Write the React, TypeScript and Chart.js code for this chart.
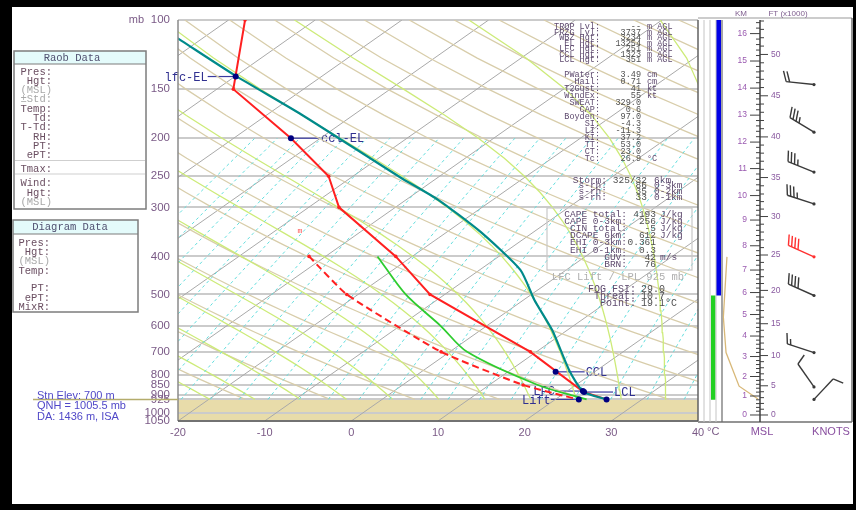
import React, { useEffect, useRef } from "react";
import { Chart, registerables } from "chart.js";
Chart.register(...registerables);

// ---------------- axis ticks ----------------
const pressureLevels = [100, 150, 200, 250, 300, 400, 500, 600, 700, 800, 850, 900, 925, 1000, 1050];
const tempTicks = [-20, -10, 0, 10, 20, 30, 40];

// ---------------- background line families ----------------
const isotherms = [-80, -70, -60, -50, -40, -30, -20, -10, 0, 10, 20, 30, 40];
const dryAdiabats = [-20, -10, 0, 10, 20, 30, 40, 50, 60, 70, 80, 90, 100, 110, 120, 130, 140, 150, 160, 170, 180, 190, 200, 210, 220];
const moistAdiabats = [-25, -20, -15, -10, -5, 0, 5, 10, 15, 20, 25, 30, 35, 40, 45, 50, 55, 60];
const mixingRatios = [0.08, 0.11, 0.15, 0.2, 0.27, 0.36, 0.48, 0.64, 0.86, 1.14, 1.5, 2, 2.6, 3.4, 4.4, 5.7, 7.1, 9.1, 11.6, 14.4, 18.5, 24, 31, 40];
const groundP = 925;

// ---------------- sounding ----------------
const tempP = [100, 150, 200, 250, 300, 400, 500, 700, 885, 925];
const tempC = [-78.1, -68.1, -53.4, -42.8, -36.5, -21.9, -11.7, 9.3, 22.0, 25.9];
const dewP = [400, 500, 700, 850, 925];
const dewC = [-31.9, -21.3, -1.0, 13.9, 22.6];
const wetP = [400, 500, 600, 700, 850, 925];
const wetC = [-24.0, -14.5, -5.4, 2.0, 15.6, 23.6];
const parcelP = [105, 113, 139, 174, 251, 287, 346, 433, 517, 617, 786, 885, 925];
const parcelC = [-86.3, -82.0, -69.9, -56.1, -34.5, -26.3, -16.2, -5.3, 1.3, 8.3, 17.1, 22.0, 25.9];

// annotated levels
const markerNames = ["lfc-EL", "ccl-EL", "CCL", "LFC", "LCL", "Lift", ""];
const markerP = [139.3, 200, 787, 881, 886, 925, 925];
const markerC = [-69.9, -53.4, 15.5, 21.8, 22.1, 22.7, 25.9];
const markerSide = ["L", "R", "R", "L", "R", "L", ""];
const oddMarkP = 345;
const oddMarkC = -37.1;

// ---------------- winds ----------------
const windP = [146, 193, 244, 294, 401, 503, 703, 860, 925];
const windDir = [276, 301, 292, 288, 294, 294, 288, 325, 43];
const windKt = [20, 35, 35, 35, 40, 40, 15, 10, 10];
const windHighlight = [false, false, false, false, true, false, false, false, false];

// ---------------- height scale ----------------
const kmPressure = [1013.7, 906.9, 808.9, 719.5, 638.0, 562.4, 494.4, 433.3, 375.8, 323.2, 280.0, 239.0, 204.6, 174.7, 149.1, 127.2, 108.3];
const ftLabels = [0, 5, 10, 15, 20, 25, 30, 35, 40, 45, 50];

// side column
const blueLayerP = [100, 503];
const greenLayerP = [503, 927];
const sideProfileP = [401, 571, 703, 856, 923];
const sideProfileV = [1.1, 0.3, 0.9, 3.8, 8.0];

// ---------------- text blocks ----------------
const raobRows = ["Pres:", "Hgt:", "(MSL)", "\u00b1Std:", "Temp:", "Td:", "T-Td:", "RH:", "PT:", "ePT:", "Tmax:", "Wind:", "Hgt:", "(MSL)"];
const diagRows = ["Pres:", "Hgt:", "(MSL)", "Temp:", "", "PT:", "ePT:", "MixR:"];
const stnLines = ["Stn Elev: 700 m", "QNH = 1005.5 mb", "DA: 1436 m, ISA"];

const idxLabels = ["TROP Lvl:", "FRZG Lvl:", "WBZ Hgt:", "EL Hgt:", "LFC Hgt:", "CCL Hgt:", "LCL Hgt:", "PWater:", "Hail:", "T2Gust:", "WindEx:", "SWEAT:", "CAP:", "Boyden:", "SI:", "LI:", "KI:", "TT:", "CT:", "Tc:"];
const idxValues = ["--", "3737", "3234", "13254", "251", "1323", "351", "3.49", "0.71", "41", "55", "329.0", "0.6", "97.0", "-4.3", "-11.3", "37.2", "53.0", "23.0", "26.9"];
const idxUnits = ["m AGL", "m AGL", "m AGL", "m AGL", "m AGL", "m AGL", "m AGL", "cm", "cm", "kt", "kt", "", "", "", "", "", "", "", "", "\u00b0C"];

const stormLabels = ["Storm:", "s-rh:", "s-rh:", "s-rh:"];
const stormValues = ["325/32", "86", "35", "33"];
const stormUnits = ["6km", "0-3km", "0-2km", "0-1km"];

const boxLabels = ["CAPE total:", "CAPE 0-3km:", "CIN total:", "DCAPE 6km:", "EHI 0-3km:", "EHI 0-1km:", "GUV:", "BRN:"];
const boxValues = ["4193", "256", "-5", "612", "0.361", "0.3", "42", "76"];
const boxUnits = ["J/kg", "J/kg", "J/kg", "J/kg", "", "", "m/s", ""];

const fogLabels = ["FOG FSI:", "Threat:", "Point:"];
const fogValues = ["29.0", "10.7", "19.1\u00b0C"];

// ---------------- helpers ----------------
const SKEW = 28;
const PBOT = 1050;
const skewX = (t: number, p: number) => t + SKEW * Math.log(PBOT / p);

const MONO = "'Liberation Mono', 'DejaVu Sans Mono', monospace";
const SANS = "'Liberation Sans', Arial, sans-serif";
const LABEL = "#7a5a86";

function pressures(top: number, bottom: number, step: number) {
  const out: number[] = [];
  for (let p = bottom; p >= top - 0.01; p -= step) out.push(p);
  return out;
}

function dryLine(thetaC: number) {
  const th = thetaC + 273.15;
  return pressures(100, groundP, 25).map((p) => ({ x: skewX(th * Math.pow(p / 1000, 0.2857) - 273.15, p), y: p }));
}

function esat(tK: number) {
  const tc = tK - 273.15;
  return 6.112 * Math.exp((17.67 * tc) / (tc + 243.5));
}
function moistRate(tK: number, p: number) {
  const Rd = 287.04, cp = 1005.7, Lv = 2.501e6, eps = 0.622;
  const es = esat(tK);
  const rs = (eps * es) / Math.max(p - es, 1);
  return ((Rd * tK + Lv * rs) / (cp + (Lv * Lv * rs * eps) / (Rd * tK * tK))) / p;
}
function moistLine(thetaW: number) {
  let t = thetaW + 273.15;
  const pts: { x: number; y: number }[] = [];
  for (let p = 1000; p >= 100; p -= 1) {
    if (p <= groundP && p % 25 === 0) pts.push({ x: skewX(t - 273.15, p), y: p });
    const k1 = moistRate(t, p);
    const k2 = moistRate(t - k1 * 0.5, p - 0.5);
    t -= k2;
  }
  return pts;
}

function mixLine(w: number) {
  return pressures(200, groundP, 25).map((p) => {
    const e = (w * p) / (622 + w);
    const a = Math.log(e / 6.112);
    const td = (243.5 * a) / (17.67 - a);
    return { x: skewX(td, p), y: p };
  });
}

const pts = (P: number[], C: number[]) => P.map((p, i) => ({ x: skewX(C[i], p), y: p }));

function bgSet(data: any[], color: string, width: number, order: number, dash: number[] = []) {
  return { data, borderColor: color, borderWidth: width, borderDash: dash, pointRadius: 0, fill: false, tension: 0, order };
}

function buildDatasets() {
  const ds: any[] = [];
  isotherms.forEach((t) => ds.push(bgSet([{ x: skewX(t, 1050), y: 1050 }, { x: skewX(t, 100), y: 100 }], "#a9a9a9", 1, 20)));
  dryAdiabats.forEach((t) => ds.push(bgSet(dryLine(t), "#d8cdaa", 1.3, 19)));
  moistAdiabats.forEach((t) => ds.push(bgSet(moistLine(t), "#cdeb78", 1.3, 18)));
  mixingRatios.forEach((w) => ds.push(bgSet(mixLine(w), "#62dede", 1, 17, [3, 3])));
  ds.push({ data: pts(wetP, wetC), borderColor: "#2ecc2e", borderWidth: 1.8, pointRadius: 0, fill: false, tension: 0.3, order: 6 });
  ds.push({ data: pts(dewP, dewC), borderColor: "#ff2020", borderWidth: 2, borderDash: [7, 4], pointRadius: 1.8, pointBorderWidth: 0, pointBackgroundColor: "#ff2020", fill: false, tension: 0.15, order: 5 });
  ds.push({ data: pts(tempP, tempC), borderColor: "#ff2020", borderWidth: 2, pointRadius: 1.8, pointBorderWidth: 0, pointBackgroundColor: "#ff2020", fill: false, tension: 0, order: 4 });
  ds.push({ data: pts(parcelP, parcelC), borderColor: "#008a8a", borderWidth: 2.2, pointRadius: 0, fill: false, tension: 0.2, order: 3 });
  ds.push({ data: pts(markerP, markerC), showLine: false, pointRadius: 3, pointBorderWidth: 0, pointBackgroundColor: "#000080", order: 1 });
  return ds;
}

function txt(ctx: CanvasRenderingContext2D, s: string, x: number, y: number, color: string, font: string, align: CanvasTextAlign = "left") {
  ctx.fillStyle = color;
  ctx.font = font;
  ctx.textAlign = align;
  ctx.textBaseline = "middle";
  ctx.fillText(s, x, y);
}
function seg(ctx: CanvasRenderingContext2D, x1: number, y1: number, x2: number, y2: number, color: string, w = 1) {
  ctx.strokeStyle = color;
  ctx.lineWidth = w;
  ctx.beginPath();
  ctx.moveTo(x1, y1);
  ctx.lineTo(x2, y2);
  ctx.stroke();
}

function drawBarb(ctx: CanvasRenderingContext2D, x: number, y: number, dir: number, kt: number, color: string) {
  const r = (dir * Math.PI) / 180;
  const ux = Math.sin(r), uy = -Math.cos(r);
  const L = 28;
  const ex = x + ux * L, ey = y + uy * L;
  seg(ctx, x, y, ex, ey, color, 1.4);
  ctx.fillStyle = color;
  ctx.beginPath();
  ctx.arc(x, y, 1.6, 0, Math.PI * 2);
  ctx.fill();
  const bx = -uy, by = ux;
  const a = (20 * Math.PI) / 180;
  const vx = bx * Math.cos(a) + ux * Math.sin(a);
  const vy = by * Math.cos(a) + uy * Math.sin(a);
  const n10 = Math.floor(kt / 10);
  const n5 = Math.round((kt - n10 * 10) / 5);
  const sp = 3.5;
  let pos = 0;
  for (let i = 0; i < n10; i++) {
    const sx = ex - ux * pos, sy = ey - uy * pos;
    seg(ctx, sx, sy, sx + vx * 11, sy + vy * 11, color, 1.4);
    pos += sp;
  }
  if (n5) {
    if (n10 === 0) pos = sp;
    const sx = ex - ux * pos, sy = ey - uy * pos;
    seg(ctx, sx, sy, sx + vx * 6, sy + vy * 6, color, 1.4);
  }
}

const extras = {
  id: "extras",
  beforeDraw(chart: any) {
    const { ctx, chartArea: a, scales } = chart;
    const y = scales.y;
    ctx.save();
    ctx.fillStyle = "#000";
    ctx.fillRect(0, 0, 856, 510);
    ctx.fillStyle = "#fff";
    ctx.fillRect(12, 7, 841, 497);
    const g = y.getPixelForValue(groundP);
    ctx.fillStyle = "#e8dcaa";
    ctx.fillRect(a.left, g, a.right - a.left, a.bottom - g);
    ctx.restore();
  },
  beforeDatasetsDraw(chart: any) {
    const { ctx, scales } = chart;
    const xs = scales.x, ys = scales.y;
    ctx.save();
    const f = "12px " + MONO;
    markerNames.forEach((name, i) => {
      if (!name) return;
      const px = xs.getPixelForValue(skewX(markerC[i], markerP[i]));
      const py = ys.getPixelForValue(markerP[i]);
      if (markerSide[i] === "R") {
        seg(ctx, px, py, px + 29, py, "#3a3aa0", 1.2);
        txt(ctx, name, px + 30, py + 1, "#303090", f, "left");
      } else {
        seg(ctx, px, py, px - 28, py, "#3a3aa0", 1.2);
        txt(ctx, name, px - 28, py + 1, "#303090", f, "right");
      }
    });
    const mx = xs.getPixelForValue(skewX(oddMarkC, oddMarkP));
    const my = ys.getPixelForValue(oddMarkP);
    txt(ctx, "m", mx, my, "#ff5050", "8px " + MONO, "center");
    ctx.restore();
  },
  afterDraw(chart: any) {
    const { ctx, chartArea: a, scales } = chart;
    const ys = scales.y;
    ctx.save();
    // plot border
    seg(ctx, a.left, a.top, a.left, a.bottom, "#8a8a8a", 1.5);
    seg(ctx, a.right, a.top, a.right, a.bottom, "#606060", 1.5);
    seg(ctx, a.left, a.bottom, a.right, a.bottom, "#555555", 1.5);
    // surface line to the left
    const g = ys.getPixelForValue(groundP);
    seg(ctx, 33, g, a.left, g, "#b4ac6c", 1.5);
    txt(ctx, "mb", 144, 20, LABEL, "11px " + SANS, "right");
    txt(ctx, "\u00b0C", 707, 432, LABEL, "11px " + SANS, "left");

    // Raob Data box
    const mono10 = "10.5px " + MONO;
    ctx.fillStyle = "#e4fbfb";
    ctx.fillRect(14, 51, 132, 13);
    ctx.strokeStyle = "#7c7c7c";
    ctx.lineWidth = 1.5;
    ctx.strokeRect(14, 51, 132, 158);
    seg(ctx, 14, 64, 146, 64, "#7c7c7c", 1.2);
    txt(ctx, "Raob Data", 72, 58, "#505070", mono10, "center");
    const raobY = [72, 81, 90, 99.5, 109, 118, 127.5, 137, 146, 155, 169, 183, 193, 202];
    raobRows.forEach((r, i) => {
      const gray = r === "(MSL)" || r.indexOf("Std") >= 0;
      txt(ctx, r, 52, raobY[i], gray ? "#a8a8a8" : "#6b4f62", mono10, "right");
    });
    seg(ctx, 15, 160.5, 145, 160.5, "#cfcfcf", 1);
    seg(ctx, 15, 174, 145, 174, "#cfcfcf", 1);

    // Diagram Data box
    ctx.fillStyle = "#e4fbfb";
    ctx.fillRect(13, 220, 125, 14);
    ctx.strokeStyle = "#7c7c7c";
    ctx.lineWidth = 1.5;
    ctx.strokeRect(13, 220, 125, 92);
    seg(ctx, 13, 234, 138, 234, "#7c7c7c", 1.2);
    txt(ctx, "Diagram Data", 70, 227.5, "#505070", mono10, "center");
    const diagY = [243, 252, 261, 271, 280, 288.5, 298, 307.5];
    diagRows.forEach((r, i) => {
      if (!r) return;
      txt(ctx, r, 50, diagY[i], r === "(MSL)" ? "#a8a8a8" : "#6b4f62", mono10, "right");
    });

    // station info
    stnLines.forEach((s, i) => txt(ctx, s, 37, 395.5 + i * 10.5, "#5048c8", "11px " + SANS, "left"));

    // index block
    const mono8 = "8.5px " + MONO;
    idxLabels.forEach((l, i) => {
      const yy = i < 7 ? 27 + i * 5.5 : 75 + (i - 7) * 7;
      txt(ctx, l, 600, yy, "#5e4a6e", mono8, "right");
      txt(ctx, idxValues[i], 641, yy, "#505050", mono8, "right");
      if (idxUnits[i]) txt(ctx, idxUnits[i], 647, yy, "#5e4a6e", mono8, "left");
    });
    const mono95 = "9.5px " + MONO;
    stormLabels.forEach((l, i) => {
      const yy = 180 + i * 5.7;
      txt(ctx, l, 607, yy, "#5e4a6e", mono95, "right");
      txt(ctx, stormValues[i], 647, yy, "#505050", mono95, "right");
      txt(ctx, stormUnits[i], 654, yy, "#5e4a6e", mono95, "left");
    });
    ctx.strokeStyle = "#c8c8c8";
    ctx.lineWidth = 1.2;
    ctx.strokeRect(547, 208, 145, 62);
    boxLabels.forEach((l, i) => {
      const yy = 214 + i * 7.2;
      txt(ctx, l, 627, yy, "#5e4a6e", mono95, "right");
      txt(ctx, boxValues[i], 656, yy, "#505050", mono95, "right");
      if (boxUnits[i]) txt(ctx, boxUnits[i], 660, yy, "#5e4a6e", mono95, "left");
    });
    txt(ctx, "LFC Lift / LPL 925 mb", 618, 277, "#b0b0b0", "10.5px " + MONO, "center");
    fogLabels.forEach((l, i) => {
      const yy = 289 + i * 7.3;
      txt(ctx, l, 636, yy, "#5e4a6e", "10px " + MONO, "right");
      txt(ctx, fogValues[i], 641, yy, "#505050", "10px " + MONO, "left");
    });

    // right panel frame
    seg(ctx, a.right, 18, 852, 18, "#9a9a9a", 1.2);
    seg(ctx, 852, 18, 852, 422, "#707070", 1.5);
    seg(ctx, a.right, 422, 852, 422, "#707070", 1.5);
    const yb1 = ys.getPixelForValue(blueLayerP[0]), yb2 = ys.getPixelForValue(blueLayerP[1]);
    ctx.fillStyle = "#0000e6";
    ctx.fillRect(716, yb1, 5, yb2 - yb1);
    const yg1 = ys.getPixelForValue(greenLayerP[0]), yg2 = ys.getPixelForValue(greenLayerP[1]);
    ctx.fillStyle = "#22d022";
    ctx.fillRect(711, yg1, 4.5, yg2 - yg1);
    [704, 710, 716].forEach((x) => seg(ctx, x, 20, x, 422, "#c4c4c4", 1));
    seg(ctx, 722, 20, 722, 422, "#6a6a6a", 1.2);

    // side profile (tan)
    ctx.strokeStyle = "#d8b878";
    ctx.lineWidth = 1.3;
    ctx.beginPath();
    sideProfileP.forEach((p, i) => {
      const xx = 722 + sideProfileV[i] * 4.5;
      const yy = ys.getPixelForValue(p);
      if (i === 0) ctx.moveTo(xx, yy);
      else ctx.lineTo(xx, yy);
    });
    ctx.stroke();

    // height scale
    const hy = (km: number) => {
      let i = Math.min(Math.floor(km), kmPressure.length - 2);
      if (i < 0) i = 0;
      const l1 = Math.log(kmPressure[i]), l2 = Math.log(kmPressure[i + 1]);
      return ys.getPixelForValue(Math.exp(l1 + (km - i) * (l2 - l1)));
    };
    const AX = 760;
    seg(ctx, AX, 20, AX, 422, "#404040", 1.5);
    const small = "8.5px " + SANS;
    for (let k = 0; k <= 16.41; k += 0.2) {
      const yy = hy(k);
      if (yy < 21) continue;
      const major = Math.abs(k - Math.round(k)) < 0.01;
      seg(ctx, major ? 750 : 756, yy, AX, yy, "#404040", 1);
      if (major) txt(ctx, String(Math.round(k)), 747, yy, "#9a5ab0", small, "right");
    }
    for (let f = 0; f <= 54; f++) {
      const yy = hy((f * 0.3048));
      if (yy < 21) continue;
      const major = f % 5 === 0;
      seg(ctx, AX, yy, major ? 768 : 764, yy, "#404040", 1);
    }
    ftLabels.forEach((f) => txt(ctx, String(f), 771, hy(f * 0.3048), "#8a5aa0", small, "left"));
    txt(ctx, "KM", 741, 14, "#806090", "8px " + SANS, "center");
    txt(ctx, "FT (x1000)", 788, 14, "#806090", "8px " + SANS, "center");
    txt(ctx, "MSL", 762, 432, "#8a50a0", "11px " + SANS, "center");
    txt(ctx, "KNOTS", 831, 432, "#8a50a0", "11px " + SANS, "center");

    // wind barbs
    windP.forEach((p, i) => {
      drawBarb(ctx, 814, ys.getPixelForValue(p), windDir[i], windKt[i], windHighlight[i] ? "#ff3030" : "#3a3a3a");
    });
    ctx.restore();
  },
};

export default function App() {
  const ref = useRef<HTMLCanvasElement>(null);
  useEffect(() => {
    const canvas = ref.current;
    if (!canvas) return;
    const chart = new Chart(canvas, {
      type: "line",
      data: { datasets: buildDatasets() },
      options: {
        responsive: false,
        animation: false,
        events: [],
        layout: { padding: { left: 0, top: 20, right: 158, bottom: 64 } },
        plugins: { legend: { display: false }, tooltip: { enabled: false } },
        scales: {
          x: {
            type: "linear",
            min: -20,
            max: 40,
            position: "bottom",
            afterBuildTicks: (s: any) => {
              s.ticks = tempTicks.map((v) => ({ value: v }));
            },
            afterFit: (s: any) => {
              s.height = 25;
            },
            grid: { display: false, drawTicks: false },
            border: { display: false },
            ticks: { autoSkip: false, maxRotation: 0, padding: 5, color: LABEL, font: { family: SANS, size: 11 }, callback: (v: any) => String(v) },
          },
          y: {
            type: "logarithmic",
            min: 100,
            max: 1050,
            reverse: true,
            position: "left",
            afterBuildTicks: (s: any) => {
              s.ticks = pressureLevels.map((v) => ({ value: v }));
            },
            afterFit: (s: any) => {
              s.width = 178;
            },
            grid: { color: "#cbcbcb", lineWidth: 2, drawTicks: false },
            border: { display: false },
            ticks: { autoSkip: false, padding: 8, color: LABEL, font: { family: SANS, size: 11.5 }, callback: (v: any) => String(v) },
          },
        },
      },
      plugins: [extras],
    } as any);
    return () => chart.destroy();
  }, []);
  return (
    <div style={{ position: "fixed", left: 0, top: 0, width: 856, height: 510 }}>
      <canvas ref={ref} width={856} height={510} style={{ display: "block", width: 856, height: 510 }} />
    </div>
  );
}
